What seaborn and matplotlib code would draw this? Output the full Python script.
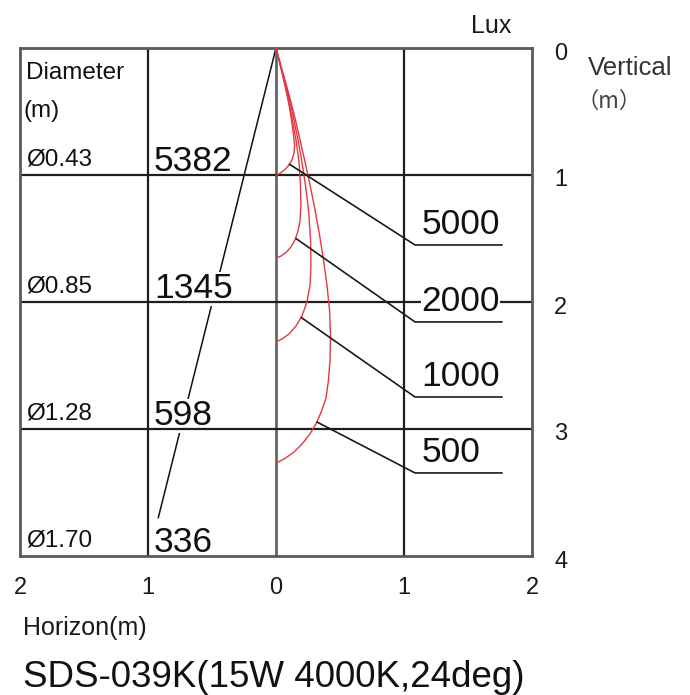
import numpy as np
import pandas as pd
import matplotlib
matplotlib.use("Agg")
import matplotlib.pyplot as plt
import matplotlib.transforms as mtransforms
import seaborn as sns

# ---------------- data (metres) ----------------
lux_levels = [5000, 2000, 1000, 500]

x_5000 = [0, .023, .051, .078, .102, .121, .137, .145, .141, .125, .102, .070, .035, 0]
y_5000 = [0, .094, .213, .331, .449, .567, .685, .764, .827, .882, .921, .957, .984, 1.004]

x_2000 = [0, .031, .063, .094, .125, .156, .180, .191, .195, .188, .172, .148, .117, .078, .039, 0]
y_2000 = [0, .118, .252, .394, .551, .724, .898, 1.079, 1.236, 1.354, 1.441, 1.512, 1.567, 1.610, 1.638, 1.654]

x_1000 = [0, .031, .066, .102, .137, .172, .203, .230, .254, .270, .273, .266, .242, .203, .156, .102, .047, 0]
y_1000 = [0, .118, .252, .394, .551, .724, .898, 1.079, 1.276, 1.512, 1.709, 1.866, 2.000, 2.110, 2.189, 2.252, 2.291, 2.315]

x_500 = [0, .031, .070, .109, .148, .188, .227, .266, .305, .340, .371, .398, .418, .426, .422, .410,
         .391, .359, .320, .266, .203, .141, .070, 0]
y_500 = [0, .118, .252, .394, .551, .724, .898, 1.079, 1.276, 1.472, 1.669, 1.866, 2.063, 2.260, 2.457, 2.614,
         2.756, 2.850, 2.945, 3.039, 3.118, 3.181, 3.232, 3.268]

# beam edge line
beam_x = [0, -0.92]
beam_y = [0, 3.70]

# table on the left
distances = [1, 2, 3, 4]
diameters = ["Ø0.43", "Ø0.85", "Ø1.28", "Ø1.70"]
center_lux = ["5382", "1345", "598", "336"]

# leader lines for contour labels
leader_start_x = [0.105, 0.156, 0.197, 0.320]
leader_start_y = [0.915, 1.500, 2.122, 2.945]
leader_y = [1.551, 2.157, 2.748, 3.346]

x_ticks = [-2, -1, 0, 1, 2]
x_tick_labels = ["2", "1", "0", "1", "2"]
y_ticks = [0, 1, 2, 3, 4]
y_tick_labels = ["0", "1", "2", "3", "4"]

# ---------------- build data frame ----------------
curves = {5000: (x_5000, y_5000), 2000: (x_2000, y_2000),
          1000: (x_1000, y_1000), 500: (x_500, y_500)}
rows = []
for lv in lux_levels:
    xs, ys = curves[lv]
    for i, (xx, yy) in enumerate(zip(xs, ys)):
        rows.append({"lux": lv, "order": i, "x": xx, "y": yy})
df = pd.DataFrame(rows)

# ---------------- style ----------------
sns.set_theme(style="white")
plt.rcParams["font.family"] = ["Liberation Sans", "DejaVu Sans", "Noto Sans CJK SC"]

W, H = 690, 695
fig = plt.figure(figsize=(W / 100, H / 100), dpi=100)
fig.patch.set_facecolor("white")
L, R, T, B = 20, 532, 48, 556
ax = fig.add_axes([L / W, 1 - B / H, (R - L) / W, (B - T) / H])
ax.set_facecolor("white")

ax.set_xlim(-2, 2)
ax.set_ylim(4, 0)

# grid lines
for gx in [-1, 1]:
    ax.axvline(gx, color="#1e1e1e", lw=1.6, zorder=1)
ax.axvline(0, color="#5e5e5e", lw=1.9, zorder=1)
for gy in [1, 2, 3]:
    ax.axhline(gy, color="#1e1e1e", lw=1.6, zorder=1)

for sp in ax.spines.values():
    sp.set_visible(True)
    sp.set_color("#5a5a5a")
    sp.set_linewidth(2.0)

# isolux contours
red = "#e23a42"
sns.lineplot(data=df, x="x", y="y", units="lux", estimator=None, sort=False,
             color=red, lw=1.0, ax=ax, legend=False, zorder=3)

# beam line
sns.lineplot(x=beam_x, y=beam_y, sort=False, estimator=None, color="#111111",
             lw=1.1, ax=ax, zorder=0.5)

# leader lines + labels
for lv, sx, sy, ly in zip(lux_levels, leader_start_x, leader_start_y, leader_y):
    ax.plot([sx, 1.086, 1.766], [sy, ly, ly], color="#1a1a1a", lw=1.2, zorder=4,
            solid_joinstyle="miter")
    ax.text(1.135, ly - 0.085, str(lv), fontsize=25.5, ha="left", va="baseline",
            color="#111111", zorder=5,
            bbox=dict(facecolor="white", edgecolor="none", pad=0.5))

# table texts
ax.text(-1.95, 0.245, "Diameter", fontsize=17.5, ha="left", va="baseline", color="#111111")
ax.text(-1.975, 0.545, "(m)", fontsize=17.5, ha="left", va="baseline", color="#111111")
for d, dia, lx in zip(distances, diameters, center_lux):
    ax.text(-1.955, d - 0.075, dia, fontsize=17.5, ha="left", va="baseline", color="#111111")
    ax.text(-0.955, d - 0.03, lx, fontsize=25.5, ha="left", va="baseline", color="#111111",
            zorder=0.8, bbox=dict(facecolor="white", edgecolor="none", pad=0.3))

# ticks
ax.set_xticks(x_ticks)
ax.set_xticklabels(x_tick_labels)
ax.yaxis.tick_right()
ax.set_yticks(y_ticks)
ax.set_yticklabels(y_tick_labels)
ax.tick_params(axis="x", length=0, pad=15, labelsize=17, labelcolor="#1a1a1a")
ax.tick_params(axis="y", length=0, pad=16, labelsize=17, labelcolor="#1a1a1a")
ax.set_xlabel("")
ax.set_ylabel("")
shift = mtransforms.ScaledTranslation(0, -3 / 100, fig.dpi_scale_trans)
for lab in ax.get_yticklabels():
    lab.set_transform(lab.get_transform() + shift)

# outer texts (pixel positions)
def ftext(px, py, s, **kw):
    fig.text(px / W, 1 - py / H, s, **kw)

ftext(471, 33, "Lux", fontsize=18, ha="left", va="baseline", color="#1a1a1a")
ftext(588, 75, "Vertical", fontsize=18.5, ha="left", va="baseline", color="#333333")
ftext(577, 101, "（m）", fontsize=16, ha="left", va="center", color="#444444",
      family=["Noto Sans CJK SC", "DejaVu Sans"])
ftext(23, 635, "Horizon(m)", fontsize=18, ha="left", va="baseline", color="#1a1a1a")
ftext(23, 687, "SDS-039K(15W 4000K,24deg)", fontsize=26.5, ha="left", va="baseline",
      color="#111111")

fig.savefig("out.png", dpi=100, facecolor="white")
